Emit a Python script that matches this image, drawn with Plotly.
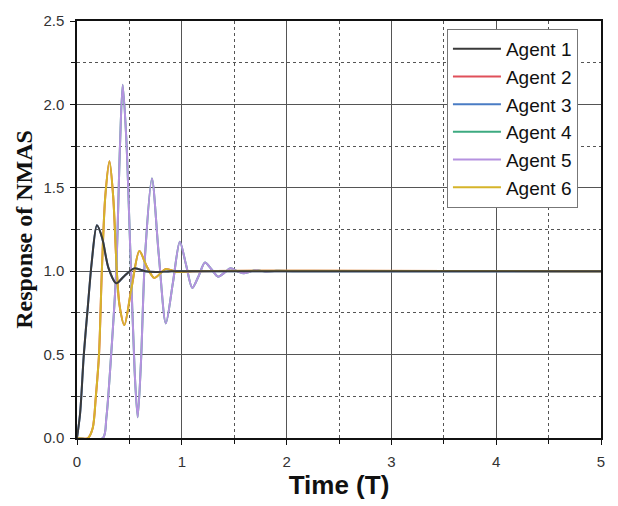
import plotly.graph_objects as go

# Time points and responses
t_agent1 = [0, 0.03, 0.065, 0.105, 0.14, 0.19, 0.24, 0.3, 0.374, 0.45, 0.547, 0.65, 0.75, 0.9, 1.2, 5.0]
y_agent1 = [0, 0.15, 0.5, 0.8, 1.05, 1.275, 1.2, 1.02, 0.928, 0.97, 1.017, 1.0, 0.995, 1.0, 1.0, 1.0]

t_agent6 = [0, 0.105, 0.15, 0.18, 0.21, 0.237, 0.27, 0.31, 0.345, 0.38, 0.405, 0.452, 0.52, 0.595, 0.665, 0.737, 0.848, 0.95, 1.1, 5.0]
y_agent6 = [0, 0, 0.06, 0.25, 0.5, 1.0, 1.45, 1.659, 1.45, 1.0, 0.8, 0.677, 0.9, 1.121, 1.03, 0.96, 1.013, 0.995, 1.0, 1.0]

t_agent5 = [0, 0.247, 0.28, 0.326, 0.374, 0.41, 0.436, 0.47, 0.51, 0.55, 0.579, 0.61, 0.65, 0.715, 0.78, 0.848, 0.915, 0.981,
            1.04, 1.10, 1.16, 1.221, 1.285, 1.347, 1.405, 1.465, 1.53, 1.591, 1.65, 1.708, 1.8, 1.9, 2.1, 5.0]
y_agent5 = [0, 0, 0.12, 0.5, 1.0, 1.75, 2.118, 1.8, 1.1, 0.4, 0.124, 0.45, 1.1, 1.556, 1.1, 0.687, 0.93, 1.177,
            1.04, 0.90, 0.97, 1.052, 1.01, 0.967, 0.99, 1.017, 1.0, 0.987, 0.997, 1.007, 0.997, 1.002, 1.0, 1.0]

# Agents 2-4 are hidden beneath the visible curves in the reference
t_agent2, y_agent2 = t_agent6, y_agent6
t_agent3, y_agent3 = t_agent1, y_agent1
t_agent4, y_agent4 = t_agent5, y_agent5

agent_names = ["Agent 1", "Agent 2", "Agent 3", "Agent 4", "Agent 5", "Agent 6"]
agent_colors = ["#3a3a3a", "#e0505a", "#4a7cc4", "#3daa80", "#b592e0", "#d6b42a"]
series_t = [t_agent1, t_agent2, t_agent3, t_agent4, t_agent5, t_agent6]
series_y = [y_agent1, y_agent2, y_agent3, y_agent4, y_agent5, y_agent6]

x_ticks = [0, 1, 2, 3, 4, 5]
y_ticks = [0.0, 0.5, 1.0, 1.5, 2.0, 2.5]
y_tick_labels = ["0.0", "0.5", "1.0", "1.5", "2.0", "2.5"]

fig = go.Figure()
# draw Agent 1 last (on top) while keeping legend order via legendrank
draw_order = [1, 2, 3, 4, 5, 0]
for i in draw_order:
    fig.add_trace(go.Scatter(x=series_t[i], y=series_y[i], mode="lines", name=agent_names[i],
                             legendrank=i + 1,
                             line=dict(color=agent_colors[i], width=2, shape="spline", smoothing=0.8)))

axis_common = dict(
    showline=True, linecolor="#111", linewidth=1.5, mirror=True,
    ticks="outside", ticklen=5, tickcolor="#111", tickwidth=1,
    showgrid=True, gridcolor="#555", gridwidth=1,
    tickfont=dict(family="Liberation Sans, Arial", size=15, color="#333"),
    zeroline=False,
)

fig.update_xaxes(**axis_common, range=[0, 5], tickvals=x_ticks, ticklabelstandoff=4,
                 minor=dict(dtick=0.5, showgrid=True, griddash="dot", gridcolor="#555", gridwidth=1,
                            ticks="outside", ticklen=4, tickcolor="#111"),
                 title=dict(text="<b>Time (T)</b>", font=dict(family="Liberation Sans, Arial", size=26, color="#111"),
                            standoff=6))
fig.update_yaxes(**axis_common, range=[0, 2.5], tickvals=y_ticks, ticktext=y_tick_labels, ticklabelstandoff=3,
                 minor=dict(dtick=0.25, showgrid=True, griddash="dot", gridcolor="#555", gridwidth=1,
                            ticks="outside", ticklen=4, tickcolor="#111"),
                 title=dict(text="<b>Response of NMAS</b>", font=dict(family="Liberation Serif, Times New Roman", size=24, color="#111"),
                            standoff=4))

fig.update_layout(
    width=618, height=506,
    margin=dict(l=77, r=17, t=16, b=67),
    paper_bgcolor="white", plot_bgcolor="white",
    legend=dict(x=0.706, y=0.981, xanchor="left", yanchor="top",
                bgcolor="white", bordercolor="#777", borderwidth=1,
                font=dict(family="Liberation Sans, Arial", size=19, color="#111"),
                tracegroupgap=0, itemwidth=48),
    showlegend=True,
)

fig.write_html("out.html")
